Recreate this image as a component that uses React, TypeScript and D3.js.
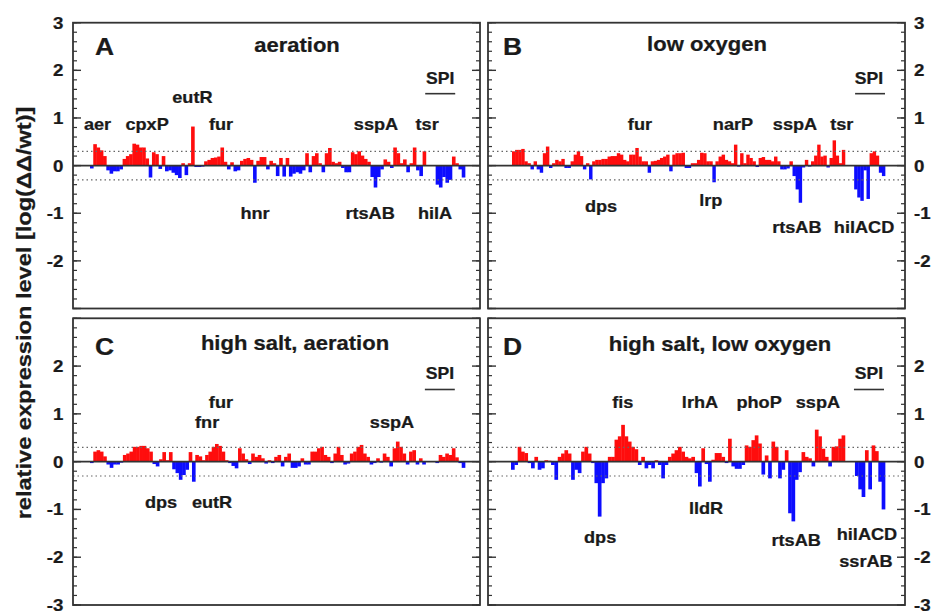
import React from "react";
import * as d3 from "d3";

// ---- data: log expression ratios per gene (bar order left to right) ----
const valuesA = [
  -0.06, 0.45, 0.38, 0.32, 0.2, -0.1, -0.17, -0.12, -0.12, -0.08,
  0.14, 0.2, 0.24, 0.46, 0.44, 0.38, 0.38, 0.15, -0.25, 0.28,
  0.24, -0.07, 0.2, -0.12, -0.1, -0.15, -0.2, -0.26, 0.05, -0.2,
  0.05, 0.82, -0.03, -0.03, -0.02, 0.09, 0.12, 0.16, 0.17, 0.19,
  0.38, 0.08, -0.08, 0.07, -0.12, -0.1, 0.1, 0.14, 0.16, 0.12,
  -0.36, 0.1, 0.18, 0.18, -0.08, 0.1, 0.05, -0.22, 0.16, -0.23,
  0.16, -0.23, -0.17, -0.14, -0.17, -0.1, 0.26, -0.14, 0.2, 0.26,
  0.05, -0.14, 0.26, 0.37, 0.08, 0.05, 0.08, -0.05, -0.14, -0.14,
  0.28, 0.24, 0.3, 0.21, 0.14, 0.08, -0.24, -0.46, -0.24, -0.08,
  0.13, 0.08, -0.05, 0.38, 0.26, 0.05, 0.13, -0.14, 0.05, 0.38,
  -0.1, -0.22, 0.3, 0, 0, 0, -0.4, -0.46, -0.24, -0.36,
  -0.3, 0.19, 0.05, -0.08, -0.25,
];
const valuesB = [
  0.3, 0.33, 0.33, 0.35, 0.09, 0.05, -0.08, 0.09, -0.08, -0.15,
  0.26, 0.4, -0.05, 0.05, 0.12, 0.09, 0.14, -0.05, -0.05, 0.09,
  0.23, 0.3, 0.2, -0.08, 0.05, -0.29, 0.09, 0.12, 0.12, 0.14,
  0.14, 0.19, 0.2, 0.2, 0.26, 0.23, 0.12, 0.09, 0.23, 0.23,
  0.37, 0.19, 0.09, 0.09, -0.15, 0.09, 0.1, 0.12, 0.16, 0.19,
  0.23, -0.12, 0.23, 0.26, 0.26, 0.27, -0.05, -0.05, 0.05, 0.05,
  0.12, 0.27, 0.26, 0.09, 0.09, -0.35, 0.09, 0.19, 0.23, 0.12,
  0.09, 0.05, 0.44, -0.02, 0.26, 0.05, 0.23, 0.16, 0.09, -0.03,
  0.16, 0.18, 0.12, 0.12, 0.09, 0.19, 0.09, -0.08, -0.08, -0.06,
  0.09, -0.22, -0.5, -0.78, -0.04, 0.12, -0.02, 0.09, 0.21, 0.44,
  0.19, 0.21, -0.04, 0.16, 0.53, 0.21, 0.05, 0.33, 0, 0,
  0, -0.5, -0.67, -0.74, -0.1, -0.7, 0.26, 0.3, 0.21, -0.15,
  -0.22,
];
const valuesC = [
  -0.03, 0.21, 0.24, 0.21, 0.11, -0.06, -0.13, -0.06, -0.06, -0.02,
  0.14, 0.17, 0.21, 0.31, 0.31, 0.33, 0.33, 0.28, 0.21, -0.05,
  -0.1, 0.05, 0.2, 0.03, 0.2, -0.16, -0.24, -0.38, -0.28, -0.17,
  0.2, -0.42, 0.14, 0.11, 0.03, 0.14, 0.21, 0.31, 0.37, 0.33,
  0.21, 0.03, -0.03, -0.09, -0.14, 0.28, 0.17, 0.05, -0.05, 0.17,
  0.1, 0.14, 0.07, -0.04, 0.03, -0.03, 0.1, 0.14, -0.1, 0.1,
  0.17, -0.13, -0.13, -0.1, 0.07, -0.06, -0.06, 0.21, 0.21, 0.28,
  0.31, 0.14, 0.1, -0.03, 0.17, 0.31, 0.14, -0.06, -0.04, 0.17,
  0.21, 0.31, 0.35, 0.17, 0.1, -0.06, -0.03, 0.07, -0.02, 0.17,
  0.1, -0.1, 0.28, 0.42, 0.31, 0.17, -0.06, 0.21, 0.24, -0.06,
  0.07, -0.06, 0, 0, 0, -0.03, 0.14, 0.1, 0.17, 0.14,
  0.28, 0.09, -0.03, -0.13,
];
const valuesD = [
  -0.17, -0.07, 0.31, 0.21, 0.18, -0.03, -0.14, 0.1, -0.17, -0.14,
  0.03, 0.02, -0.07, -0.38, 0.1, 0.17, 0.24, 0.17, -0.38, -0.17,
  -0.24, 0.21, 0.31, 0.17, -0.03, -0.45, -1.15, -0.45, -0.35, 0.1,
  0.1, 0.46, 0.53, 0.77, 0.53, 0.42, 0.31, 0.26, -0.07, 0.1,
  -0.14, -0.07, -0.14, 0.03, -0.07, -0.35, -0.07, 0.1, 0.17, 0.24,
  0.31, 0.21, 0.1, 0.07, 0.1, -0.24, -0.52, 0.28, -0.05, -0.42,
  0.04, 0.18, 0.18, 0.1, -0.03, 0.48, -0.1, -0.15, -0.15, -0.07,
  0.34, 0.31, 0.45, 0.55, 0.38, -0.27, 0.13, -0.35, 0.42, 0.31,
  -0.35, -0.17, 0.24, -1.08, -1.25, -0.38, -0.22, 0.2, 0.1, 0.07,
  -0.1, 0.67, 0.53, 0.27, 0.1, -0.1, 0.31, 0.32, 0.48, 0.55,
  0, 0, 0, -0.3, -0.58, -0.74, 0.24, -0.58, 0.34, 0.22,
  -0.42, -1.0,
];

const panelLetters = ["A", "B", "C", "D"];
const panelTitles = ["aeration", "low oxygen", "high salt, aeration", "high salt, low oxygen"];
const topTickLabels = [3, 2, 1, 0, -1, -2];
const bottomTickLabels = [2, 1, 0, -1, -2, -3];
const threshold = 0.3;
const yTitle = "relative expression level [log(\u0394\u0394/wt)]";

// gene annotations: i = position in bar units, v = value units
const genesA = [
  { t: "aer", i: 2.3, v: 0.75 }, { t: "cpxP", i: 17.5, v: 0.75 }, { t: "eutR", i: 31.4, v: 1.32 },
  { t: "fur", i: 40.2, v: 0.75 }, { t: "hnr", i: 50.6, v: -1.12 }, { t: "sspA", i: 87.7, v: 0.75 },
  { t: "tsr", i: 103.4, v: 0.75 }, { t: "rtsAB", i: 85.9, v: -1.12 }, { t: "hilA", i: 105.8, v: -1.12 },
];
const genesB = [
  { t: "fur", i: 41.5, v: 0.75 }, { t: "narP", i: 71.7, v: 0.75 }, { t: "sspA", i: 91.8, v: 0.75 },
  { t: "tsr", i: 107, v: 0.75 }, { t: "dps", i: 28.9, v: -0.97 }, { t: "lrp", i: 64.5, v: -0.85 },
  { t: "rtsAB", i: 92.4, v: -1.42 }, { t: "hilACD", i: 114.2, v: -1.42 },
];
const genesC = [
  { t: "fur", i: 39.8, v: 1.12 }, { t: "fnr", i: 35.6, v: 0.7 }, { t: "dps", i: 21.6, v: -0.97 },
  { t: "eutR", i: 37.1, v: -0.97 }, { t: "sspA", i: 91.8, v: 0.7 },
];
const genesD = [
  { t: "fis", i: 33.5, v: 1.12 }, { t: "lrhA", i: 56.6, v: 1.12 }, { t: "phoP", i: 74.3, v: 1.12 },
  { t: "sspA", i: 91.9, v: 1.12 }, { t: "dps", i: 26.7, v: -1.7 }, { t: "lldR", i: 58.4, v: -1.09 },
  { t: "rtsAB", i: 85.4, v: -1.76 }, { t: "hilACD", i: 106.6, v: -1.64 }, { t: "ssrAB", i: 106.3, v: -2.2 },
];
// SPI bracket: [start, end, label position] in bar units
const spiA = [102.8, 112, 107.4];
const spiB = [111.3, 121, 115.8];
const spiC = [101.8, 110.9, 106.4];
const spiD = [102.7, 111.7, 107.2];

const layouts = [
  { left: 73, right: 480, top: 22.7, bottom: 308.5, bars: [90, 465], side: "left", letterX: 95, letterY: 55, titleX: 297, titleY: 52 },
  { left: 488, right: 905, top: 22.7, bottom: 308.5, bars: [512, 885], side: "right", letterX: 503, letterY: 55, titleX: 707, titleY: 51 },
  { left: 73, right: 480, top: 318.3, bottom: 605, bars: [90, 465], side: "left", letterX: 95, letterY: 355, titleX: 295, titleY: 350 },
  { left: 488, right: 905, top: 318.3, bottom: 605, bars: [511, 885], side: "right", letterX: 503, letterY: 355, titleX: 720, titleY: 351 },
];

const SX = 1.1;
const FONT = "'Liberation Sans', Arial, Helvetica, sans-serif";
const RED = "#ff0d0d";
const BLUE = "#0d0dff";
const INK = "#1a1a1a";

function Txt({ x, y, size, anchor = "middle", children }: any) {
  return (
    <text
      transform={`translate(${x},${y}) scale(${SX},1)`}
      textAnchor={anchor}
      fontSize={size}
      fontWeight="bold"
      fontFamily={FONT}
      fill={INK}
      stroke={INK}
      strokeWidth={0.25}
    >
      {children}
    </text>
  );
}

function Panel({ idx, values, genes, spi }: any) {
  const L = layouts[idx];
  const y = d3.scaleLinear().domain([-3, 3]).range([L.bottom, L.top]);
  const xb = d3.scaleBand<number>().domain(d3.range(values.length)).range(L.bars as [number, number]).padding(0);
  const xl = d3.scaleLinear().domain([0, values.length]).range(L.bars as [number, number]);
  const isTop = idx < 2;
  const labelTicks = isTop ? topTickLabels : bottomTickLabels;
  const minor = d3.range(-30, 31, 2).map((d) => d / 10);
  const major = d3.range(-3, 4);
  const y0 = y(0);
  return (
    <g>
      {values.map((v: number, i: number) =>
        v === 0 ? null : (
          <rect
            key={i}
            x={xb(i)!}
            width={xb.bandwidth() + 0.35}
            y={Math.min(y(v), y0)}
            height={Math.abs(y(v) - y0)}
            fill={v > 0 ? RED : BLUE}
          />
        )
      )}
      {[threshold, -threshold].map((t) => (
        <line key={t} x1={L.left} x2={L.right} y1={y(t)} y2={y(t)} stroke="#666" strokeWidth={1.2} strokeDasharray="1.5 3" />
      ))}
      <line x1={L.left} x2={L.right} y1={y0} y2={y0} stroke="#333" strokeWidth={1.6} />
      {minor.map((m) => (
        <g key={"m" + m}>
          <line x1={L.left} x2={L.left + 4} y1={y(m)} y2={y(m)} stroke="#333" strokeWidth={1.2} />
          <line x1={L.right} x2={L.right - 4} y1={y(m)} y2={y(m)} stroke="#333" strokeWidth={1.2} />
        </g>
      ))}
      {major.map((m) => (
        <g key={"M" + m}>
          <line x1={L.left} x2={L.left + 8} y1={y(m)} y2={y(m)} stroke="#333" strokeWidth={1.4} />
          <line x1={L.right} x2={L.right - 8} y1={y(m)} y2={y(m)} stroke="#333" strokeWidth={1.4} />
        </g>
      ))}
      <rect x={L.left} y={L.top} width={L.right - L.left} height={L.bottom - L.top} fill="none" stroke="#333" strokeWidth={1.8} />
      {labelTicks.map((t) => (
        <Txt key={"t" + t} x={L.side === "left" ? 63.5 : 914} y={y(t) + 6} size={17} anchor={L.side === "left" ? "end" : "start"}>
          {t}
        </Txt>
      ))}
      <Txt x={L.letterX} y={L.letterY} size={24} anchor="start">{panelLetters[idx]}</Txt>
      <Txt x={L.titleX} y={L.titleY} size={20}>{panelTitles[idx]}</Txt>
      {genes.map((g: any) => (
        <Txt key={g.t + g.i} x={xl(g.i)} y={y(g.v)} size={16.5}>{g.t}</Txt>
      ))}
      <Txt x={xl(spi[2])} y={y(1.72)} size={16}>SPI</Txt>
      <line x1={xl(spi[0])} x2={xl(spi[1])} y1={y(1.51)} y2={y(1.51)} stroke="#333" strokeWidth={1.6} />
    </g>
  );
}

export default function App() {
  return (
    <svg
      width={935}
      height={614}
      style={{ position: "absolute", left: 0, top: 0, background: "#fff" }}
    >
      <rect width={935} height={614} fill="#fff" />
      <Panel idx={0} values={valuesA} genes={genesA} spi={spiA} />
      <Panel idx={1} values={valuesB} genes={genesB} spi={spiB} />
      <Panel idx={2} values={valuesC} genes={genesC} spi={spiC} />
      <Panel idx={3} values={valuesD} genes={genesD} spi={spiD} />
      <text
        transform={`translate(31,313) rotate(-90) scale(1.18,1)`}
        textAnchor="middle"
        fontSize={20}
        fontWeight="bold"
        fontFamily={FONT}
        fill={INK}
        stroke={INK}
        strokeWidth={0.25}
      >
        {yTitle}
      </text>
    </svg>
  );
}
